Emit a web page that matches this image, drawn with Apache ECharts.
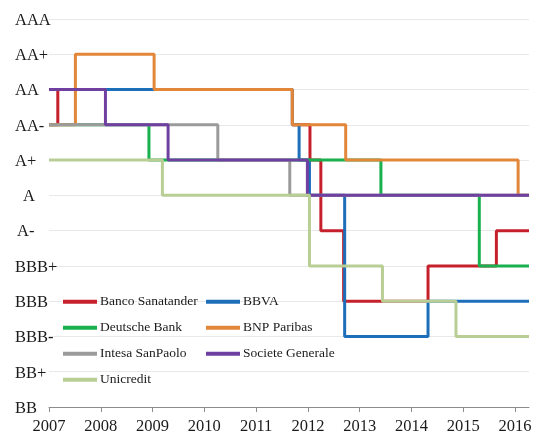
<!DOCTYPE html>
<html>
<head>
<meta charset="utf-8">
<script src="https://cdn.jsdelivr.net/npm/echarts@6/dist/echarts.min.js"></script>
<style>html,body{margin:0;padding:0;background:#fff;}#c{width:536px;height:435px;}</style>
</head>
<body>
<div id="c"></div>
<script>
// Rating scale (bottom to top)
const ratingLabels = ['BB','BB+','BBB-','BBB','BBB+','A-','A','A+','AA-','AA','AA+','AAA'];
const yearTicks = [2007,2008,2009,2010,2011,2012,2013,2014,2015,2016];
const endYear = 2016.27;

// Rating change dates and rating after each change
const santanderDates   = [2007, 2007.17, 2011.70, 2012.04, 2012.25, 2012.69, 2014.32, 2015.64, endYear];
const santanderRatings = ['AA-','AA','AA-','A+','A-','BBB','BBB+','A-','A-'];

const bbvaDates   = [2007, 2011.70, 2011.83, 2012.03, 2012.71, 2014.32, endYear];
const bbvaRatings = ['AA','AA-','A+','A','BBB-','BBB','BBB'];

const deutscheDates   = [2007, 2008.93, 2013.41, 2015.31, endYear];
const deutscheRatings = ['AA-','A+','A','BBB+','BBB+'];

const bnpDates   = [2007, 2007.51, 2009.03, 2011.70, 2012.73, 2016.06, endYear];
const bnpRatings = ['AA-','AA+','AA','AA-','A+','A','A'];

const intesaDates   = [2007, 2010.26, 2011.65, endYear];
const intesaRatings = ['AA-','A+','A','A'];

const socgenDates   = [2007, 2008.09, 2009.30, 2011.99, endYear];
const socgenRatings = ['AA','AA-','A+','A','A'];

const unicreditDates   = [2007, 2009.19, 2012.03, 2013.44, 2014.86, endYear];
const unicreditRatings = ['A+','A','BBB+','BBB','BBB-','BBB-'];

const seriesNames  = ['Banco Sanatander','BBVA','Deutsche Bank','BNP Paribas','Intesa SanPaolo','Societe Generale','Unicredit'];
const seriesDates  = [santanderDates, bbvaDates, deutscheDates, bnpDates, intesaDates, socgenDates, unicreditDates];
const seriesRatings= [santanderRatings, bbvaRatings, deutscheRatings, bnpRatings, intesaRatings, socgenRatings, unicreditRatings];
const seriesColors = ['#C5202B','#1E6FBA','#19B04F','#E2873A','#9B9B9B','#7040A0','#B8CE95'];

const FONT = "'Liberation Serif','Times New Roman',serif";
const TXT = '#1a1a1a';

const series = seriesNames.map((name, i) => ({
  name: name,
  type: 'line',
  step: 'end',
  showSymbol: false,
  symbol: 'none',
  color: seriesColors[i],
  lineStyle: { width: 3, color: seriesColors[i] },
  data: seriesDates[i].map((d, j) => [d, ratingLabels.indexOf(seriesRatings[i][j])])
}));

const chart = echarts.init(document.getElementById('c'), null, {renderer: 'canvas'});
chart.setOption({
  animation: false,
  backgroundColor: '#fff',
  grid: { left: 49, right: 7, top: 19, bottom: 27, containLabel: false },
  xAxis: {
    type: 'value',
    min: 2007, max: endYear, interval: 1,
    axisLine: { show: true, lineStyle: { color: '#8c8c8c', width: 1 } },
    axisTick: { show: true, length: 5, lineStyle: { color: '#8c8c8c' }, customValues: yearTicks },
    splitLine: { show: false },
    axisLabel: { customValues: yearTicks, margin: 11, color: TXT, fontFamily: FONT, fontSize: 16.5,
      formatter: v => String(Math.round(v)) }
  },
  yAxis: {
    type: 'value',
    min: 0, max: 11, interval: 1,
    axisLine: { show: false },
    axisTick: { show: false },
    splitLine: { show: true, lineStyle: { color: '#e8e8e8', width: 1 } },
    axisLabel: {
      align: 'left', margin: 34, color: TXT, fontFamily: FONT, fontSize: 16.5,
      formatter: v => {
        const l = ratingLabels[Math.round(v)];
        if (l === 'A') return '{a|' + l + '}';
        if (l === 'A-') return '{b|' + l + '}';
        return '{n|' + l + '}';
      },
      rich: {
        n: { padding: [3,0,0,0], fontFamily: FONT, fontSize: 16.5, color: TXT },
        a: { padding: [3,0,0,8], fontFamily: FONT, fontSize: 16.5, color: TXT },
        b: { padding: [3,0,0,2], fontFamily: FONT, fontSize: 16.5, color: TXT }
      }
    }
  },
  legend: [
    {
      orient: 'vertical', left: 63, top: 293.7, padding: 0,
      data: ['Banco Sanatander','Deutsche Bank','Intesa SanPaolo','Unicredit'],
      icon: 'rect', itemWidth: 34, itemHeight: 4, itemGap: 10,
      textStyle: { fontFamily: FONT, fontSize: 13.5, color: TXT, lineHeight: 16, padding: [0,0,0,-2] }
    },
    {
      orient: 'vertical', left: 206, top: 293.7, padding: 0,
      data: ['BBVA','BNP Paribas','Societe Generale'],
      icon: 'rect', itemWidth: 34, itemHeight: 4, itemGap: 10,
      textStyle: { fontFamily: FONT, fontSize: 13.5, color: TXT, lineHeight: 16, padding: [0,0,0,-2] }
    }
  ],
  series: series
});
</script>
</body>
</html>
